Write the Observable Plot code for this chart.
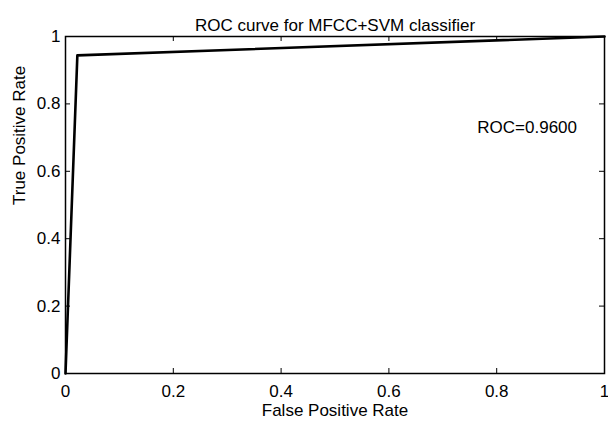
<!DOCTYPE html>
<html>
<head>
<meta charset="utf-8">
<script src="https://cdn.jsdelivr.net/npm/d3@7"></script>
<script src="https://cdn.jsdelivr.net/npm/@observablehq/plot@0.6"></script>
<style>
  html, body { margin: 0; padding: 0; background: #fff; }
  svg { display: block; font-family: "Liberation Sans", Arial, sans-serif; }
  svg g[aria-label="x-axis tick label"], svg g[aria-label="y-axis tick label"] { font-size: 17px !important; }
  svg g[aria-label="x-axis tick label"] text, svg g[aria-label="y-axis tick label"] text { font-size: 17px !important; }
</style>
</head>
<body>
<div id="chart"></div>
<script>
const fpr = [0, 0.022, 1];
const tpr = [0, 0.944, 1];
const xTicks = [0, 0.2, 0.4, 0.6, 0.8, 1];
const yTicks = [0, 0.2, 0.4, 0.6, 0.8, 1];
const titleText = "ROC curve for MFCC+SVM classifier";
const xLabel = "False Positive Rate";
const yLabel = "True Positive Rate";
const annotation = [{x: 0.764, y: 0.73, text: "ROC=0.9600"}];

const roc = fpr.map((x, i) => ({x, y: tpr[i]}));

const W = 608, H = 424;
const mL = 65, mR = 4, mT = 36, mB = 51;
const fw = W - mL - mR, fh = H - mT - mB;
const tl = 5;
const fmt = d => d3.format("~g")(d);

const chart = Plot.plot({
  width: W,
  height: H,
  marginLeft: mL,
  marginRight: mR,
  marginTop: mT,
  marginBottom: mB,
  style: {fontFamily: "Liberation Sans, Arial, sans-serif", fontSize: "17px", color: "#000", background: "#fff"},
  x: {domain: [0, 1], ticks: xTicks, tickFormat: fmt, label: null},
  y: {domain: [0, 1], ticks: yTicks, tickFormat: fmt, label: null},
  marks: [
    Plot.axisX({ticks: xTicks, tickFormat: fmt, tickSize: 0, tickPadding: 11, fontSize: 17, label: null}),
    Plot.axisY({ticks: yTicks, tickFormat: fmt, tickSize: 0, tickPadding: 5, fontSize: 17, label: null}),
    Plot.tickX(xTicks, {x: d => d, insetTop: fh - tl, stroke: "#000", strokeWidth: 1}),
    Plot.tickX(xTicks, {x: d => d, insetBottom: fh - tl, stroke: "#000", strokeWidth: 1}),
    Plot.tickY(yTicks, {y: d => d, insetRight: fw - tl, stroke: "#000", strokeWidth: 1}),
    Plot.tickY(yTicks, {y: d => d, insetLeft: fw - tl, stroke: "#000", strokeWidth: 1}),
    Plot.line(roc, {x: "x", y: "y", stroke: "#000", strokeWidth: 2.6}),
    Plot.frame({stroke: "#000", strokeWidth: 1.5}),
    Plot.text(annotation, {x: "x", y: "y", text: "text", textAnchor: "start", fontSize: 17, fill: "#000"}),
    Plot.text([titleText], {frameAnchor: "top", dy: -18, fontSize: 17, fill: "#000"}),
    Plot.text([xLabel], {frameAnchor: "bottom", dy: 42, fontSize: 17, fill: "#000"}),
    Plot.text([yLabel], {frameAnchor: "left", dx: -46, rotate: -90, fontSize: 17, fill: "#000"})
  ]
});
document.getElementById("chart").appendChild(chart);
</script>
</body>
</html>
